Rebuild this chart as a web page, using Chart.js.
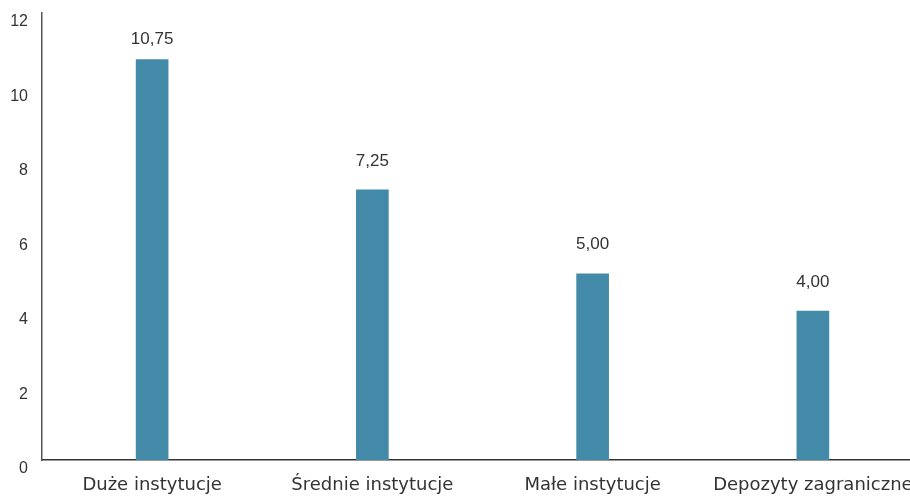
<!DOCTYPE html>
<html>
<head>
<meta charset="utf-8">
<script src="https://cdn.jsdelivr.net/npm/chart.js@4"></script>
<style>
  html, body { margin: 0; padding: 0; background: #fff; overflow: hidden; }
  #wrap { width: 923px; height: 497px; position: relative; }
</style>
</head>
<body>
<div id="wrap"><canvas id="chart"></canvas></div>
<script>
const categories = ["Duże instytucje", "Średnie instytucje", "Małe instytucje", "Depozyty zagraniczne"];
const values = [10.75, 7.25, 5.00, 4.00];
const yTicks = [0, 2, 4, 6, 8, 10, 12];

const barColor = "#4389a8";
const textColor = "#333333";

// value labels above each bar, polish decimal comma
const valueLabels = {
  id: "valueLabels",
  afterDatasetsDraw(chart) {
    const ctx = chart.ctx;
    const meta = chart.getDatasetMeta(0);
    const top = chart.chartArea.top;
    ctx.save();
    ctx.font = "17px 'Liberation Sans', Arial, sans-serif";
    ctx.fillStyle = textColor;
    ctx.textAlign = "center";
    ctx.textBaseline = "middle";
    meta.data.forEach((bar, i) => {
      const txt = values[i].toFixed(2).replace(".", ",");
      // keep the tallest label inside the plot
      const y = Math.max(bar.y - 29, top + 26);
      ctx.fillText(txt, bar.x, y);
    });
    ctx.restore();
  }
};

new Chart(document.getElementById("chart"), {
  type: "bar",
  data: {
    labels: categories,
    datasets: [{
      data: values,
      backgroundColor: barColor,
      barThickness: 32
    }]
  },
  options: {
    responsive: true,
    maintainAspectRatio: false,
    animation: false,
    layout: { padding: { top: 13, left: 10, right: 0, bottom: 0 } },
    plugins: {
      legend: { display: false },
      tooltip: { enabled: false }
    },
    scales: {
      x: {
        grid: { display: false, drawTicks: false },
        border: { display: true, color: "#333333", width: 1.5 },
        afterFit(scale) {
          scale.height = 37;
          scale.paddingLeft = 0;
          scale.paddingRight = 0;
        },
        ticks: {
          padding: 15,
          color: textColor,
          font: { family: "'DejaVu Sans', sans-serif", size: 18 }
        }
      },
      y: {
        min: 0,
        max: 12,
        afterBuildTicks(scale) {
          scale.ticks = yTicks.map(v => ({ value: v }));
        },
        afterFit(scale) {
          scale.width = 32;
          scale.paddingTop = 0;
          scale.paddingBottom = 0;
        },
        grid: { display: false, drawTicks: false },
        border: { display: true, color: "#555555", width: 1.5 },
        ticks: {
          padding: 14,
          labelOffset: 9,
          color: textColor,
          font: { family: "'Liberation Sans', Arial, sans-serif", size: 16 }
        }
      }
    }
  },
  plugins: [valueLabels]
});
</script>
</body>
</html>
